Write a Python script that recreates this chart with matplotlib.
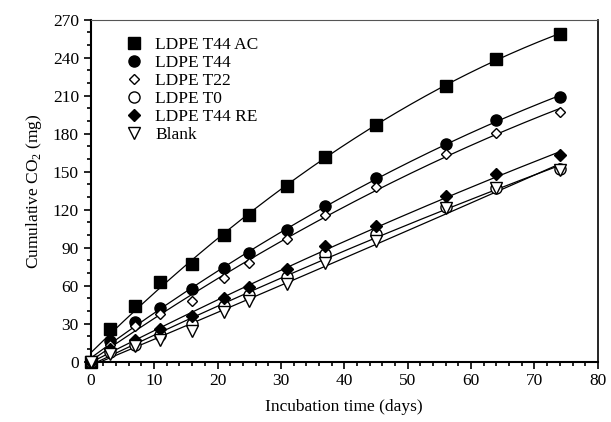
import numpy as np
import matplotlib
matplotlib.use("Agg")
import matplotlib.pyplot as plt
from matplotlib.ticker import MultipleLocator

# incubation days
days = [0, 3, 7, 11, 16, 21, 25, 31, 37, 45, 56, 64, 74]

# cumulative CO2 (mg)
t44_ac = [0, 26, 44, 63, 77, 100, 116, 139, 162, 187, 218, 239, 259]
t44 = [0, 16, 31, 42, 57, 74, 86, 104, 123, 145, 172, 191, 209]
t22 = [0, 13, 28, 38, 48, 66, 78, 97, 116, 138, 164, 181, 197]
t0 = [0, 8, 13, 21, 30, 44, 53, 67, 85, 101, 122, 137, 152]
t44_re = [0, 10, 17, 26, 36, 50, 59, 73, 91, 107, 131, 148, 163]
blank = [0, 6, 12, 17, 24, 39, 48, 61, 78, 95, 121, 137, 151]

labels = ['LDPE T44 AC', 'LDPE T44', 'LDPE T22', 'LDPE T0', 'LDPE T44 RE', 'Blank']


def fitCurve(ax, x, y):
    # smooth trend through the points (quadratic fit)
    coef = np.polyfit(x, y, 2)
    xs = np.linspace(0, max(x), 200)
    ax.plot(xs, np.polyval(coef, xs), color='black', lw=0.9, zorder=2)


def main():
    plt.rcParams['font.family'] = ['Liberation Serif', 'DejaVu Serif']
    plt.rcParams['mathtext.fontset'] = 'custom'
    plt.rcParams['mathtext.rm'] = 'Liberation Serif'
    plt.rcParams['font.size'] = 12.5

    fig = plt.figure(figsize=(6.11, 4.22), dpi=100)
    ax = fig.add_axes([0.1485, 0.143, 0.830, 0.810])

    series = [t44_ac, t44, t22, t0, t44_re, blank]
    styles = [
        dict(marker='s', ms=8, mfc='black', mec='black'),
        dict(marker='o', ms=8, mfc='black', mec='black'),
        dict(marker='D', ms=5.5, mfc='white', mec='black', mew=1.0),
        dict(marker='o', ms=8, mfc='white', mec='black', mew=1.0),
        dict(marker='D', ms=6, mfc='black', mec='black'),
        dict(marker='v', ms=8, mfc='white', mec='black', mew=1.0),
    ]

    for y in series:
        fitCurve(ax, days, y)

    for y, lab, st in zip(series, labels, styles):
        ax.plot(days, y, linestyle='none', label=lab, zorder=3, clip_on=False, **st)

    ax.set_xlim(0, 80)
    ax.set_ylim(0, 270)
    ax.xaxis.set_major_locator(MultipleLocator(10))
    ax.xaxis.set_minor_locator(MultipleLocator(2))
    ax.yaxis.set_major_locator(MultipleLocator(30))
    ax.yaxis.set_minor_locator(MultipleLocator(10))
    ax.tick_params(which='both', direction='out', top=False, right=False, width=1.2)
    ax.tick_params(which='major', length=5, labelsize=12.5)
    ax.tick_params(which='minor', length=3)
    ax.spines['left'].set_linewidth(1.5)
    ax.spines['bottom'].set_linewidth(1.5)
    ax.spines['top'].set_linewidth(0.8)
    ax.spines['right'].set_linewidth(1.2)
    ax.spines['top'].set_color('#555555')

    ax.set_xlabel('Incubation time (days)', fontsize=12.5, labelpad=7)
    ax.set_ylabel('Cumulative CO$_2$ (mg)', fontsize=12.5, labelpad=6)

    ax.legend(loc='upper left', bbox_to_anchor=(0.054, 0.97), frameon=False,
              handlelength=1.0, handletextpad=0.75, labelspacing=0.1,
              fontsize=12.5, borderaxespad=0)

    fig.savefig('out.png', dpi=100)


if __name__ == "__main__":
    main()
